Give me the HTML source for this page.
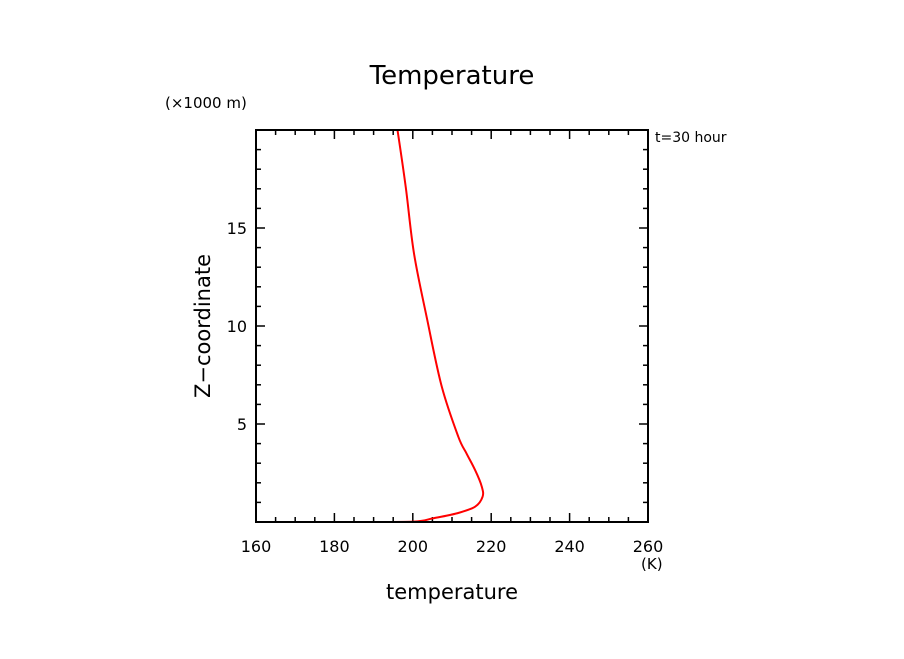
<!DOCTYPE html>
<html><head><meta charset="utf-8"><style>
body{margin:0;background:#fff;}
svg text{font-family:"DejaVu Sans","Liberation Sans",sans-serif;fill:#000;}
</style></head><body>
<svg width="904" height="654" xmlns="http://www.w3.org/2000/svg">
<rect width="904" height="654" fill="#fff"/>
<text x="452" y="84" font-size="26" text-anchor="middle">Temperature</text>
<text x="165" y="108" font-size="15">(×1000 m)</text>
<text x="655" y="142" font-size="14">t=30 hour</text>
<text x="641" y="569" font-size="15">(K)</text>
<text x="452" y="599" font-size="21" text-anchor="middle">temperature</text>
<text transform="translate(210,326) rotate(-90)" font-size="21" text-anchor="middle">Z−coordinate</text>
<g id="axes"></g>
<path id="curve" fill="none" stroke="#ff0000" stroke-width="2"/>
<rect x="256" y="130" width="392" height="392" fill="none" stroke="#000" stroke-width="2"/>
</svg>
<script>
const xTicks=[160,180,200,220,240,260];
const yTicks=[5,10,15];
const temps=[184.5,200.1,205.2,211.2,215.9,217.8,217.6,215.9,213.7,211.6,207.4,203.7,200.3,198.2,196.1];
const heights=[0,0.02,0.19,0.44,0.78,1.29,1.8,2.65,3.5,4.35,6.9,10.3,13.7,17.1,20];
const X0=256,X1=648,Y0=522,Y1=130;
const sx=t=>X0+(t-160)/100*(X1-X0);
const sy=z=>Y0-z/20*(Y0-Y1);
const NS="http://www.w3.org/2000/svg";
const g=document.getElementById('axes');
function line(x1,y1,x2,y2,name){const l=document.createElementNS(NS,'line');
l.setAttribute('x1',x1);l.setAttribute('y1',y1);l.setAttribute('x2',x2);l.setAttribute('y2',y2);
l.setAttribute('stroke','#000');l.setAttribute('stroke-width','1.5');


g.appendChild(l);}
for(let t=160;t<=260;t+=5){const x=sx(t);const major=t%20===0;const L=major?9:5;
line(x,Y0,x,Y0-L,'x-tick');line(x,Y1,x,Y1+L,'x-tick-top');}
for(let z=1;z<20;z++){const y=sy(z);const major=z%5===0;const L=major?9:5;
line(X0,y,X0+L,y,'y-tick');line(X1,y,X1-L,y,'y-tick-right');}
xTicks.forEach(t=>{const tx=document.createElementNS(NS,'text');
tx.setAttribute('x',sx(t));tx.setAttribute('y',552);tx.setAttribute('font-size','16');tx.setAttribute('text-anchor','middle');
tx.textContent=t;


g.appendChild(tx);});
yTicks.forEach(z=>{const tx=document.createElementNS(NS,'text');
tx.setAttribute('x',247);tx.setAttribute('y',sy(z)+6);tx.setAttribute('font-size','16');tx.setAttribute('text-anchor','end');
tx.textContent=z;


g.appendChild(tx);});
const P=temps.map((t,i)=>[sx(t),sy(heights[i])]);
let d='M'+P[0][0].toFixed(1)+' '+P[0][1].toFixed(1);
for(let i=0;i<P.length-1;i++){
const p0=P[Math.max(0,i-1)],p1=P[i],p2=P[i+1],p3=P[Math.min(P.length-1,i+2)];
const c1=[p1[0]+(p2[0]-p0[0])/6,p1[1]+(p2[1]-p0[1])/6];
const c2=[p2[0]-(p3[0]-p1[0])/6,p2[1]-(p3[1]-p1[1])/6];
d+='C'+c1[0].toFixed(1)+' '+c1[1].toFixed(1)+' '+c2[0].toFixed(1)+' '+c2[1].toFixed(1)+' '+p2[0].toFixed(1)+' '+p2[1].toFixed(1);}
document.getElementById('curve').setAttribute('d',d);
</script>
</body></html>
